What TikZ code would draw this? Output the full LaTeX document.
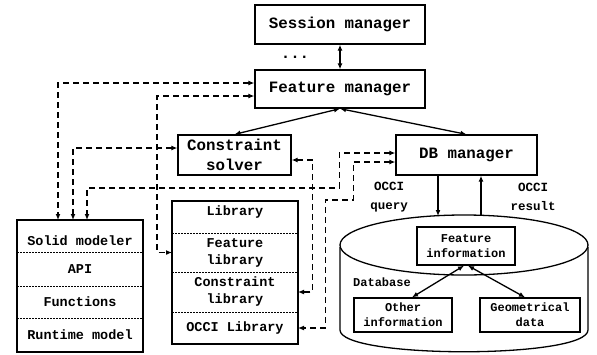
\documentclass[tikz,border=0pt]{standalone}
\usepackage{fontspec}
\newfontfamily\diagfont{Liberation Mono}
\usetikzlibrary{arrows.meta,positioning}

\begin{document}
\begin{tikzpicture}[x=1pt, y=-1pt,
    bigtext/.style={font=\diagfont\bfseries\fontsize{15.8}{20}\selectfont},
    midtext/.style={font=\diagfont\bfseries\fontsize{13.5}{17}\selectfont},
    smalltext/.style={font=\diagfont\bfseries\fontsize{12}{15}\selectfont},
    box/.style={draw, line width=1.3pt, inner sep=0pt, align=center},
    cell/.style={midtext, minimum width=126pt, inner sep=0pt, outer sep=0pt, align=center},
    divider/.style={line width=0.7pt, dash pattern=on 2pt off 1pt},
    tip/.style={-{Latex[length=6pt,width=5pt]}},
    link/.style={line width=1.3pt, {Latex[length=6pt,width=5pt]}-{Latex[length=6pt,width=5pt]}},
    dlink/.style={link, line width=1.6pt, dash pattern=on 6pt off 4pt}]
    \useasboundingbox (0,0) rectangle (597,354);

    % Manazery
    \node[box, bigtext, minimum width=170pt, minimum height=39pt] (sess) at (340,24.5) {Session manager};
    \node[bigtext] (dots) at (295,57) {...};
    \node[box, bigtext, minimum width=170pt, minimum height=38pt] (feat) at (340,89) {Feature manager};
    \node[box, bigtext, minimum width=113pt, minimum height=40pt] (cons) at (234.5,155) {Constraint\\solver};
    \node[box, bigtext, minimum width=141pt, minimum height=40pt] (dbm) at (466.5,155) {DB manager};

    % Solid modeler
    \node[cell, minimum height=32pt] (solid) at (80,236) {\raisebox{-5pt}[\height][\depth]{Solid modeler}};
    \node[cell, minimum height=34pt, below=0pt of solid] (api) {API};
    \node[cell, minimum height=32pt, below=0pt of api] (func) {Functions};
    \node[cell, minimum height=34pt, below=0pt of func] (rt) {Runtime model};
    \draw[line width=1.3pt] (solid.north west) rectangle (rt.south east);
    \foreach \c in {api,func,rt}
        \draw[divider] (\c.north west) -- (\c.north east);

    % Knihovny
    \node[cell, minimum height=32pt] (lib) at (235,217) {\raisebox{5pt}[\height][\depth]{Library}};
    \node[cell, minimum height=39pt, below=0pt of lib] (flib) {Feature\\library};
    \node[cell, minimum height=40pt, below=0pt of flib] (clib) {Constraint\\library};
    \node[cell, minimum height=32pt, below=0pt of clib] (olib) {OCCI Library};
    \draw[line width=1.3pt] (lib.north west) rectangle (olib.south east);
    \foreach \c in {flib,clib,olib}
        \draw[divider] (\c.north west) -- (\c.north east);

    % Databaze
    \draw[line width=1.3pt] (340,247) -- (340,330) .. controls (340,359) and (588,359) .. (588,330) -- (588,247);
    \draw[line width=1.3pt] (464,245) ellipse [x radius=124pt, y radius=30pt];
    \node[box, smalltext, minimum width=98pt, minimum height=38pt] (finfo) at (466,246) {Feature\\information};
    \node[box, smalltext, minimum width=98pt, minimum height=34pt] (other) at (403,315) {Other\\information};
    \node[box, smalltext, minimum width=100pt, minimum height=34pt] (geo) at (530,315) {Geometrical\\data};
    \node[smalltext] (dbname) at (382,282) {Database};

    % OCCI dotazy
    \node[smalltext, font=\diagfont\bfseries\fontsize{12.5}{19}\selectfont, align=center] (qlab) at (389,197) {OCCI\\query};
    \node[smalltext, font=\diagfont\bfseries\fontsize{12.5}{19}\selectfont, align=center] (rlab) at (533,197) {OCCI\\result};
    \coordinate (qend) at (438,216);
    \coordinate (rstart) at (481,215);
    \draw[tip, line width=1.3pt] (dbm.south -| qend) -- (qend);
    \draw[tip, line width=1.3pt] (rstart) -- (dbm.south -| rstart);

    % Plne spoje
    \draw[link] (sess) -- (feat);
    \draw[link] (feat.south) -- (cons.north);
    \draw[link] (feat.south) -- (dbm.north);
    \draw[link] ([xshift=-2pt]finfo.south) -- ([xshift=9pt]other.north);
    \draw[link] ([xshift=2pt]finfo.south) -- ([xshift=-5pt]geo.north);

    % Carkovane spoje
    \draw[dlink] ([yshift=6pt]feat.west) -| ([xshift=-22pt]solid.north);
    \draw[dlink] ([yshift=-7pt]feat.west) -| ([xshift=-15pt]flib.west) -- (flib.west);
    \draw[dlink] ([yshift=7pt]cons.west) -| ([xshift=-7pt]solid.north);
    \draw[dlink] ([yshift=2pt]dbm.west) -- ++(-56,0) -- ++(0,35) -| ([xshift=7pt]solid.north);
    \draw[dlink] ([yshift=-7pt]dbm.west) -- ++(-42,0) -- ++(0,38) -- ++(-28,0) |- (olib.east);
    \draw[dlink] ([yshift=-5pt]cons.east) -- ++(21,0) |- (clib.east);
\end{tikzpicture}
\end{document}
